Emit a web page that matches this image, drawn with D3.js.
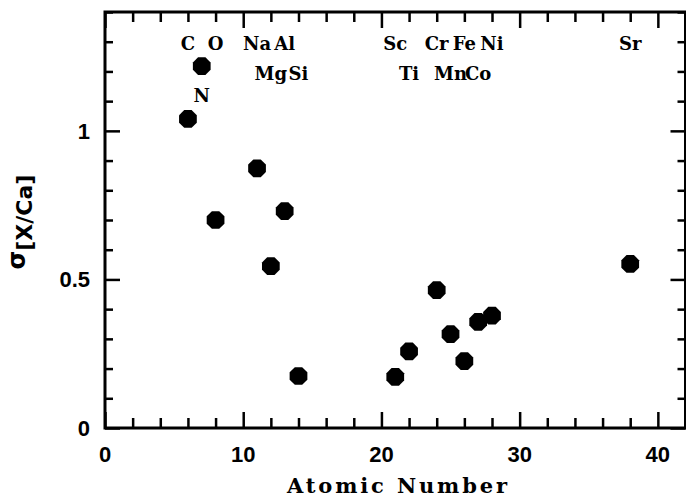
<!DOCTYPE html>
<html lang="en">
<head>
<meta charset="UTF-8">
<title>sigma X/Ca vs atomic number</title>
<script src="https://cdn.jsdelivr.net/npm/d3@7/dist/d3.min.js"></script>
<style>
  body { margin: 0; background: white; }
  .tick text { font-family: "Liberation Sans", Arial, sans-serif; font-weight: bold; font-size: 22px; fill: black; }
  .elem { font-family: "DejaVu Serif", serif; font-weight: bold; font-size: 18px; }
</style>
</head>
<body>
<script>
// data
var elements   = ["C", "N", "O", "Na", "Mg", "Al", "Si", "Sc", "Ti", "Cr", "Mn", "Fe", "Co", "Ni", "Sr"];
var atomicNum  = [6, 7, 8, 11, 12, 13, 14, 21, 22, 24, 25, 26, 27, 28, 38];
var sigmaXCa   = [1.040, 1.218, 0.700, 0.874, 0.545, 0.730, 0.175, 0.172, 0.258, 0.464, 0.316, 0.225, 0.357, 0.378, 0.552];
var labelRow   = [0, 2, 0, 0, 1, 0, 1, 0, 1, 0, 1, 0, 1, 0, 0];
var xMajor = [0, 10, 20, 30, 40];
var yMajor = [0, 0.5, 1];
var yLabels = ["0", "0.5", "1"];

var W = 686, H = 497;
var svg = d3.select("body").append("svg").attr("width", W).attr("height", H);

var x = d3.scaleLinear().domain([0, 42]).range([105, 685.5]);
var y = d3.scaleLinear().domain([0, 1.4]).range([428, 12]);

var xMinor = d3.range(0, 42.01, 2).filter(function(d){ return d % 10 !== 0; });
var yMinor = d3.range(0, 1.401, 0.1).map(function(d){ return +d.toFixed(1); })
               .filter(function(d){ return yMajor.indexOf(d) < 0; });

function ticks(axis, vals, size, tx, ty) {
  var g = svg.append("g").attr("transform", "translate(" + tx + "," + ty + ")")
    .call(axis.tickValues(vals).tickSize(size).tickFormat(""));
  g.select(".domain").remove();
  g.selectAll("line").attr("stroke", "black").attr("stroke-width", 2.5);
  return g;
}
// bottom / top
ticks(d3.axisBottom(x), xMajor, -16, 0, 428);
ticks(d3.axisBottom(x), xMinor, -10, 0, 428);
ticks(d3.axisTop(x), xMajor, -16, 0, 12);
ticks(d3.axisTop(x), xMinor, -10, 0, 12);
// left / right
ticks(d3.axisLeft(y), yMajor, -15, 105, 0);
ticks(d3.axisLeft(y), yMinor, -8, 105, 0);
ticks(d3.axisRight(y), yMajor, -15, 685.5, 0);
ticks(d3.axisRight(y), yMinor, -8, 685.5, 0);

// frame
svg.append("rect")
  .attr("x", x(0)).attr("y", y(1.4))
  .attr("width", x(42) - x(0)).attr("height", y(0) - y(1.4))
  .attr("fill", "none").attr("stroke", "black").attr("stroke-width", 3);

// tick labels
var tl = svg.append("g").attr("class", "tick");
tl.selectAll(".xl").data(xMajor).enter().append("text")
  .attr("x", function(d){ return x(d); }).attr("y", 462)
  .attr("text-anchor", "middle").text(function(d){ return d; });
tl.selectAll(".yl").data(yMajor).enter().append("text")
  .attr("x", 90).attr("y", function(d){ return y(d) + 8; })
  .attr("text-anchor", "end").text(function(d, i){ return yLabels[i]; });

// axis titles
svg.append("text")
  .attr("x", 397).attr("y", 493).attr("text-anchor", "middle")
  .attr("textLength", 220).attr("lengthAdjust", "spacing")
  .style("font-family", "DejaVu Serif, serif").style("font-weight", "bold").style("font-size", "21px")
  .text("Atomic Number");

var yt = svg.append("text")
  .attr("transform", "translate(25,222) rotate(-90)")
  .attr("text-anchor", "middle")
  .style("font-family", "DejaVu Sans, sans-serif").style("font-weight", "bold");
yt.append("tspan").style("font-size", "24px").text("σ");
yt.append("tspan").style("font-size", "22px").attr("dy", 7).text("[X/Ca]");

// octagon markers
var octagon = {
  draw: function(ctx, size) {
    var r = Math.sqrt(size / (2 * Math.SQRT2));
    for (var k = 0; k < 8; k++) {
      var a = Math.PI / 8 + k * Math.PI / 4;
      if (k === 0) ctx.moveTo(r * Math.cos(a), r * Math.sin(a));
      else ctx.lineTo(r * Math.cos(a), r * Math.sin(a));
    }
    ctx.closePath();
  }
};
var sym = d3.symbol().type(octagon).size(2 * Math.SQRT2 * 9.6 * 9.6);
svg.selectAll(".pt").data(atomicNum).enter().append("path")
  .attr("transform", function(d, i){ return "translate(" + x(d) + "," + y(sigmaXCa[i]) + ")"; })
  .attr("d", sym).attr("fill", "black");

// element labels
var rowY = [50, 80, 102];
svg.selectAll(".elem").data(elements).enter().append("text")
  .attr("class", "elem")
  .attr("x", function(d, i){ return x(atomicNum[i]); })
  .attr("y", function(d, i){ return rowY[labelRow[i]]; })
  .attr("text-anchor", "middle").text(function(d){ return d; });
</script>
</body>
</html>
